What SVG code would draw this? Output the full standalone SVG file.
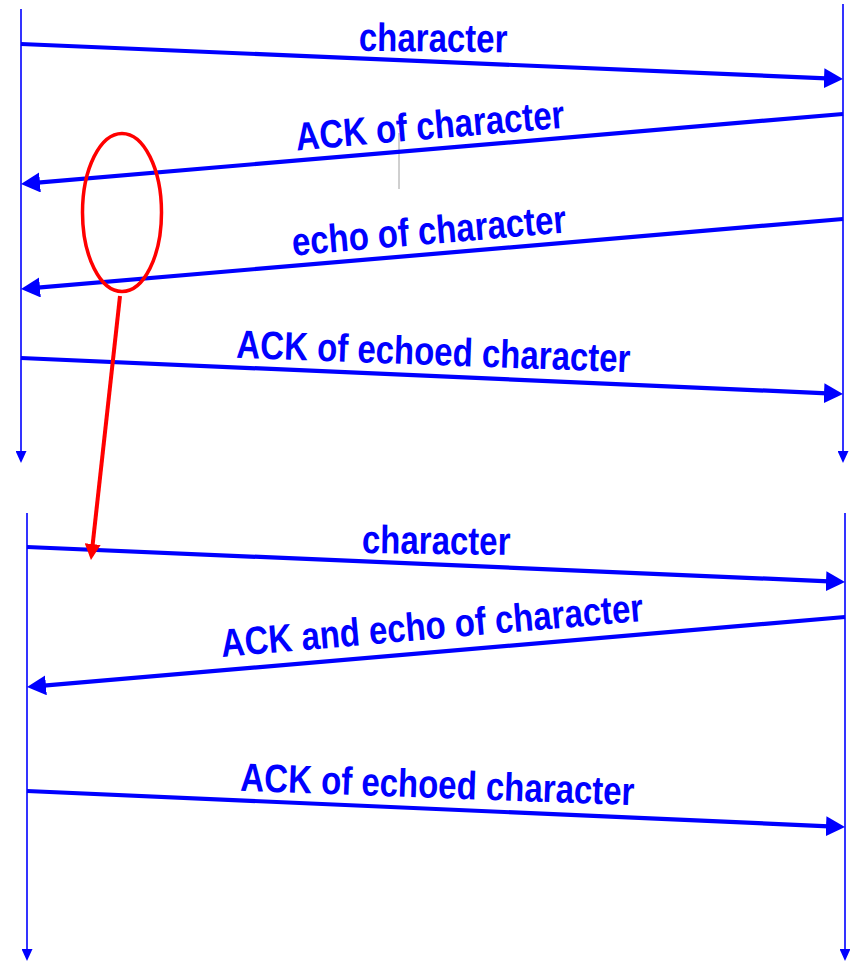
<svg xmlns="http://www.w3.org/2000/svg" width="850" height="963" viewBox="0 0 850 963">
<defs>
<marker id="ah" markerUnits="userSpaceOnUse" markerWidth="19" markerHeight="20" refX="14" refY="10" orient="auto"><path d="M0,0 L19,10 L0,20 z" fill="#0000ff"/></marker>
<marker id="th" markerUnits="userSpaceOnUse" markerWidth="12" markerHeight="11" refX="10" refY="5.5" orient="auto"><path d="M0,0 L12,5.5 L0,11 z" fill="#0000ff"/></marker>
<marker id="rh" markerUnits="userSpaceOnUse" markerWidth="16" markerHeight="16" refX="11" refY="8" orient="auto"><path d="M0,0 L16,8 L0,16 z" fill="#ff0000"/></marker>
</defs>
<style>
.tl{stroke:#0000ff;stroke-width:1.6;fill:none;marker-end:url(#th)}
.msg{stroke:#0000ff;stroke-width:4.2;fill:none;marker-end:url(#ah)}
.lbl{font-family:"Liberation Sans",Arial,sans-serif;font-weight:bold;font-size:33px;fill:#0000ff;text-anchor:middle}
</style>
<rect width="850" height="963" fill="#ffffff"/>
<g id="timelines">
<line id="tl-top-left" class="tl" x1="21" y1="9" x2="21" y2="461"/>
<line id="tl-top-right" class="tl" x1="843" y1="4" x2="843" y2="461"/>
<line id="tl-bot-left" class="tl" x1="27" y1="513" x2="27" y2="959"/>
<line id="tl-bot-right" class="tl" x1="845" y1="513" x2="845" y2="959"/>
</g>
<line x1="399" y1="133" x2="399" y2="189" stroke="#a0a0a0" stroke-width="1"/>
<g id="connectors">
<line class="msg" x1="21" y1="44" x2="838" y2="78.8"/>
<line class="msg" x1="843" y1="114" x2="26" y2="183.6"/>
<line class="msg" x1="843" y1="219" x2="26" y2="288.6"/>
<line class="msg" x1="21" y1="358" x2="838" y2="393.8"/>
<line class="msg" x1="27" y1="547" x2="840" y2="581.8"/>
<line class="msg" x1="845" y1="617" x2="32" y2="686.6"/>
<line class="msg" x1="27" y1="791" x2="840" y2="826.8"/>
<line x1="120" y1="296" x2="91.5" y2="555" stroke="#ff0000" stroke-width="4" marker-end="url(#rh)"/>
</g>
<g id="labels">
<text class="lbl" transform="translate(433,51.5) rotate(0.6) scale(1,1.2)">character</text>
<text class="lbl" transform="translate(431,139) rotate(-4.85) scale(1,1.2)">ACK of character</text>
<text class="lbl" transform="translate(430,244) rotate(-4.85) scale(1,1.2)">echo of character</text>
<text class="lbl" transform="translate(433,365) rotate(2.1) scale(1,1.2)">ACK of echoed character</text>
<text class="lbl" transform="translate(436,554) rotate(0.8) scale(1,1.2)">character</text>
<text class="lbl" transform="translate(433,639) rotate(-4.9) scale(1,1.2)">ACK and echo of character</text>
<text class="lbl" transform="translate(437,798) rotate(2.1) scale(1,1.2)">ACK of echoed character</text>
</g>
<g id="highlight">
<ellipse cx="122" cy="212.5" rx="39.5" ry="79" fill="none" stroke="#ff0000" stroke-width="3.5"/>
</g>
</svg>
